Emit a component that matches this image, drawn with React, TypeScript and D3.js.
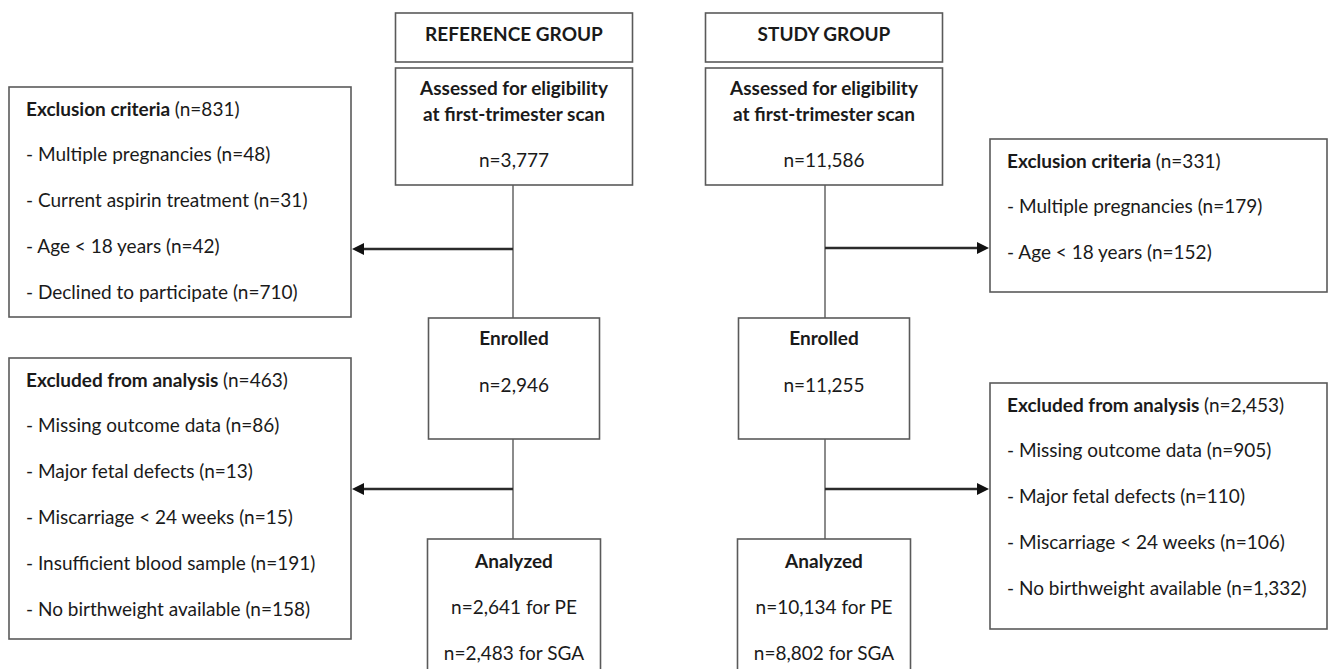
import React, { useEffect, useRef } from 'react';
import * as d3 from 'd3';

// text content of the flow chart
const groups = ['REFERENCE GROUP', 'STUDY GROUP'];
const assessedTitle = ['Assessed for eligibility', 'at first-trimester scan'];
const assessedN = ['n=3,777', 'n=11,586'];
const enrolledN = ['n=2,946', 'n=11,255'];
const analyzedPE = ['n=2,641 for PE', 'n=10,134 for PE'];
const analyzedSGA = ['n=2,483 for SGA', 'n=8,802 for SGA'];

const exclusionTotals = ['(n=831)', '(n=331)'];
const exclusionItems = [
  ['- Multiple pregnancies (n=48)', '- Current aspirin treatment (n=31)', '- Age < 18 years (n=42)', '- Declined to participate (n=710)'],
  ['- Multiple pregnancies (n=179)', '- Age < 18 years (n=152)'],
];
const excludedTotals = ['(n=463)', '(n=2,453)'];
const excludedItems = [
  ['- Missing outcome data (n=86)', '- Major fetal defects (n=13)', '- Miscarriage < 24 weeks (n=15)', '- Insufficient blood sample (n=191)', '- No birthweight available (n=158)'],
  ['- Missing outcome data (n=905)', '- Major fetal defects (n=110)', '- Miscarriage < 24 weeks (n=106)', '- No birthweight available (n=1,332)'],
];

const W = 1328;
const H = 669;
const FONT = 'Lato, "Open Sans", sans-serif';
const FS = 19;
const TEXT = '#1a1a1a';
const BORDER = '#5a5a5a';

const FlowChart: React.FC = () => {
  const svgRef = useRef<SVGSVGElement | null>(null);

  useEffect(() => {
    document.body.style.margin = '0';
    const svgEl = svgRef.current;
    if (!svgEl) return;
    const svg = d3.select(svgEl);
    svg.selectAll('*').remove();

    // column centre of each group, and of its line
    const colX = d3.scaleOrdinal<string, number>().domain(groups).range([514, 824]);
    const lineX = d3.scaleOrdinal<string, number>().domain(groups).range([513, 825]);
    const lineStep = 45.8;

    const box = (x0: number, y0: number, x1: number, y1: number) =>
      svg.append('rect')
        .attr('x', x0).attr('y', y0)
        .attr('width', x1 - x0).attr('height', y1 - y0)
        .attr('fill', '#fff').attr('stroke', BORDER).attr('stroke-width', 1.6);

    const label = (x: number, y: number, txt: string, bold = false, anchor = 'middle') =>
      svg.append('text')
        .attr('x', x).attr('y', y)
        .attr('text-anchor', anchor)
        .attr('font-family', FONT)
        .attr('font-size', FS)
        .attr('font-weight', bold ? 700 : 400)
        .attr('fill', TEXT)
        .text(txt);

    const vline = (x: number, y0: number, y1: number) =>
      svg.append('line')
        .attr('x1', x).attr('x2', x).attr('y1', y0).attr('y2', y1)
        .attr('stroke', '#6e6e6e').attr('stroke-width', 1.6);

    const arrow = (xFrom: number, xTo: number, y: number) => {
      const dir = Math.sign(xTo - xFrom);
      const head = 12;
      svg.append('line')
        .attr('x1', xFrom).attr('x2', xTo - dir * head).attr('y1', y).attr('y2', y)
        .attr('stroke', '#2b2b2b').attr('stroke-width', 2.6);
      svg.append('path')
        .attr('d', d3.line()([[xTo, y], [xTo - dir * head, y - 6], [xTo - dir * head, y + 6]]) + 'Z')
        .attr('fill', '#111');
    };

    // side list box: bold heading + count, then bullet lines
    const listBox = (x0: number, y0: number, x1: number, y1: number, heading: string, total: string, items: string[]) => {
      box(x0, y0, x1, y1);
      const tx = x0 + 17;
      const firstY = y0 + 28.5;
      const t = svg.append('text')
        .attr('x', tx).attr('y', firstY)
        .attr('font-family', FONT).attr('font-size', FS).attr('fill', TEXT);
      t.append('tspan').attr('font-weight', 700).text(heading + ' ');
      t.append('tspan').attr('font-weight', 400).text(total);
      items.forEach((it, i) => label(tx, firstY + (i + 1) * lineStep, it, false, 'start'));
    };

    // vertical connectors, drawn first so boxes overlap them
    groups.forEach((g) => {
      vline(lineX(g), 185, 318);
      vline(lineX(g), 439, 539);
    });

    groups.forEach((g, i) => {
      const cx = colX(g);
      const wide = 237;
      const narrow = 171;
      // header
      box(cx - wide / 2, 13, cx + wide / 2, 62);
      label(cx, 41, g, true);
      // assessed
      box(cx - wide / 2, 68, cx + wide / 2, 185);
      label(cx, 95, assessedTitle[0], true);
      label(cx, 121, assessedTitle[1], true);
      label(cx, 167, assessedN[i]);
      // enrolled
      box(cx - narrow / 2, 318, cx + narrow / 2, 439);
      label(cx, 345, 'Enrolled', true);
      label(cx, 392, enrolledN[i]);
      // analyzed (runs past the bottom edge)
      box(cx - narrow / 2 - 1, 539, cx + narrow / 2 + 1, 700);
      label(cx, 568, 'Analyzed', true);
      label(cx, 614, analyzedPE[i]);
      label(cx, 660, analyzedSGA[i]);
    });

    // left side (reference group)
    listBox(9, 87, 351, 317, 'Exclusion criteria', exclusionTotals[0], exclusionItems[0]);
    listBox(9, 358, 351, 639, 'Excluded from analysis', excludedTotals[0], excludedItems[0]);
    arrow(lineX(groups[0]), 352, 249);
    arrow(lineX(groups[0]), 352, 489);

    // right side (study group)
    listBox(990, 139, 1327, 292, 'Exclusion criteria', exclusionTotals[1], exclusionItems[1]);
    listBox(990, 383, 1327, 629, 'Excluded from analysis', excludedTotals[1], excludedItems[1]);
    arrow(lineX(groups[1]), 989, 248);
    arrow(lineX(groups[1]), 989, 489);
  }, []);

  return <svg ref={svgRef} width={W} height={H} style={{ display: 'block', background: '#fff' }} />;
};

export default function App() {
  return <FlowChart />;
}
